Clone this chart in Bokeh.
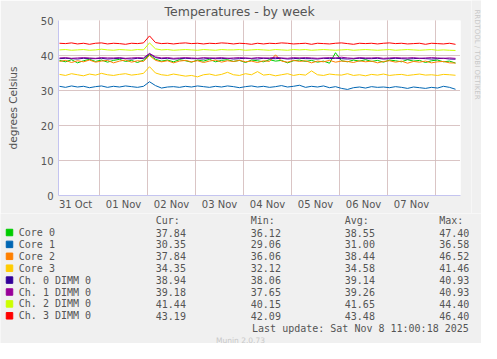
from bokeh.plotting import figure
from bokeh.layouts import column, row
from bokeh.models import FixedTicker, Grid, Range1d, ColumnDataSource
from bokeh.core.properties import value
from bokeh.embed import file_html
from bokeh.resources import INLINE

# ---------------- data ----------------
# sample times: hours since 31 Oct 00:00 (3-hourly samples)
hours = [4 + 3 * i for i in range(67)]

day_labels = ["31 Oct", "01 Nov", "02 Nov", "03 Nov", "04 Nov", "05 Nov", "06 Nov", "07 Nov"]
day_noons = [12, 36, 60, 84, 108, 132, 156, 180]
day_midnights = [24, 48, 72, 96, 120, 144, 168, 192]
y_ticks = [0, 10, 20, 30, 40, 50]

series_names = ["Core 0", "Core 1", "Core 2", "Core 3",
                "Ch. 0 DIMM 0", "Ch. 1 DIMM 0", "Ch. 2 DIMM 0", "Ch. 3 DIMM 0"]
series_colors = ["#00CC00", "#0066B3", "#FF8000", "#FFCC00",
                 "#330099", "#990099", "#CCFF00", "#FF0000"]
cur_vals = ["37.84", "30.35", "37.84", "34.35", "38.94", "39.18", "41.44", "43.19"]
min_vals = ["36.12", "29.06", "36.06", "32.12", "38.06", "37.65", "40.15", "42.09"]
avg_vals = ["38.55", "31.00", "38.44", "34.58", "39.14", "39.26", "41.65", "43.48"]
max_vals = ["47.40", "36.58", "46.52", "41.46", "40.93", "40.93", "44.40", "46.40"]

core0 = [38.6, 38.2, 38.8, 37.9, 38.5, 38.9, 38.3, 38.7, 38.1, 38.6,
         38.9, 38.3, 38.6, 38.0, 38.7, 40.2, 38.9, 38.4, 38.7, 38.2,
         38.8, 38.5, 38.1, 38.7, 38.4, 38.9, 38.2, 38.6, 38.8, 38.3,
         38.6, 38.0, 38.7, 38.5, 38.2, 38.8, 38.4, 38.6, 37.9, 38.5,
         38.7, 38.3, 38.6, 38.1, 38.4, 37.8, 40.8, 38.5, 38.2, 38.7,
         38.4, 38.8, 38.3, 38.6, 38.1, 38.7, 38.5, 38.2, 38.8, 38.4,
         38.6, 38.0, 38.5, 38.7, 38.2, 38.4, 37.84]
core1 = [31.2, 30.9, 31.3, 31.0, 31.2, 30.8, 31.1, 31.3, 30.9, 31.2,
         31.0, 31.3, 31.1, 30.9, 31.2, 32.5, 31.4, 30.7, 31.0, 31.1,
         30.9, 31.2, 31.0, 31.3, 31.1, 30.9, 31.2, 31.0, 31.3, 31.1,
         30.8, 31.1, 31.3, 31.0, 31.2, 30.9, 31.1, 31.4, 31.0, 31.2,
         31.5, 30.9, 31.2, 31.0, 31.3, 30.8, 31.1, 30.6, 30.3, 30.8,
         31.0, 30.7, 31.1, 30.9, 31.0, 30.8, 31.1, 30.9, 30.6, 31.0,
         30.8, 30.6, 30.9, 30.7, 31.2, 30.9, 30.35]
core2 = [38.3, 38.6, 38.0, 38.5, 38.2, 38.7, 38.1, 38.4, 38.6, 37.9,
         38.4, 38.7, 38.1, 38.5, 38.3, 40.0, 38.6, 38.2, 38.5, 37.9,
         38.4, 38.6, 38.2, 38.5, 38.0, 38.4, 38.7, 38.1, 38.5, 38.3,
         38.6, 38.2, 38.4, 38.0, 38.5, 38.3, 40.2, 38.4, 38.1, 38.6,
         38.3, 38.5, 37.9, 38.4, 38.2, 38.6, 38.1, 38.4, 38.3, 38.0,
         38.5, 38.2, 38.4, 37.9, 38.3, 38.5, 38.1, 38.4, 37.8, 38.3,
         38.1, 38.4, 37.9, 38.2, 38.3, 37.9, 37.84]
core3 = [34.6, 34.3, 34.8, 34.5, 34.2, 34.7, 34.4, 34.9, 34.5, 34.3,
         34.6, 34.8, 34.4, 34.6, 34.9, 36.8, 35.0, 34.5, 34.3, 34.7,
         34.4, 34.1, 34.3, 33.9, 34.5, 34.7, 34.3, 34.6, 35.2, 34.5,
         34.3, 34.8, 34.5, 35.4, 34.4, 34.6, 34.2, 34.5, 34.8, 34.3,
         34.6, 34.4, 35.6, 34.5, 34.3, 34.7, 34.5, 34.4, 34.8, 34.3,
         34.5, 34.2, 34.6, 34.4, 34.7, 34.3, 34.5, 34.6, 34.3, 34.5,
         34.7, 34.4, 34.5, 34.3, 34.6, 34.5, 34.35]
ch0 = [39.1, 39.2, 39.1, 39.0, 39.2, 39.1, 39.1, 39.2, 39.0, 39.1,
       39.2, 39.1, 39.0, 39.2, 39.1, 40.5, 39.4, 39.1, 39.2, 39.0,
       39.1, 39.2, 39.1, 39.1, 39.0, 39.2, 39.1, 39.1, 39.2, 39.0,
       39.1, 39.2, 39.1, 39.0, 39.2, 39.1, 39.1, 39.2, 39.0, 39.1,
       39.2, 39.1, 39.1, 39.0, 39.2, 39.1, 39.2, 39.1, 39.0, 39.1,
       39.2, 39.1, 39.1, 39.2, 39.0, 39.1, 39.2, 39.1, 39.0, 39.1,
       39.2, 39.1, 39.0, 39.1, 39.2, 39.0, 38.94]
ch1 = [39.3, 39.4, 39.2, 39.3, 39.4, 39.3, 39.2, 39.4, 39.3, 39.3,
       39.4, 39.2, 39.3, 39.4, 39.3, 40.6, 39.6, 39.3, 39.4, 39.2,
       39.3, 39.4, 39.3, 39.2, 39.4, 39.3, 39.3, 39.4, 39.2, 39.3,
       39.4, 39.3, 39.2, 39.4, 39.3, 39.3, 39.5, 39.3, 39.2, 39.4,
       39.3, 39.4, 39.3, 39.2, 39.3, 39.4, 39.3, 39.5, 39.3, 39.2,
       39.4, 39.3, 39.3, 39.4, 39.2, 39.3, 39.4, 39.3, 39.3, 39.4,
       39.2, 39.3, 39.4, 39.3, 39.2, 39.3, 39.18]
ch2 = [41.6, 41.7, 41.5, 41.6, 41.7, 41.5, 41.6, 41.8, 41.6, 41.5,
       41.7, 41.6, 41.5, 41.7, 41.6, 43.6, 41.9, 41.6, 41.7, 41.5,
       41.6, 41.7, 41.6, 41.5, 41.7, 41.6, 41.5, 41.7, 41.6, 41.6,
       41.7, 41.5, 41.6, 41.7, 41.6, 41.5, 41.7, 41.6, 41.5, 41.7,
       41.6, 41.7, 41.5, 41.6, 41.7, 41.6, 41.5, 41.6, 41.7, 41.5,
       41.6, 41.7, 41.6, 41.5, 41.6, 41.7, 41.5, 41.6, 41.7, 41.6,
       41.5, 41.6, 41.7, 41.5, 41.6, 41.5, 41.44]
ch3 = [43.5, 43.4, 43.6, 43.3, 43.5, 43.2, 43.5, 43.6, 43.3, 43.5,
       43.4, 43.2, 43.5, 43.4, 43.6, 45.6, 43.7, 43.4, 43.5, 43.3,
       43.5, 43.6, 43.4, 43.5, 43.3, 43.5, 43.4, 43.6, 43.5, 43.3,
       43.5, 43.4, 43.2, 43.5, 43.3, 43.5, 43.4, 43.6, 43.5, 43.3,
       43.4, 43.5, 43.2, 43.5, 43.4, 43.3, 43.5, 43.6, 43.4, 43.2,
       43.5, 43.4, 43.5, 43.3, 43.5, 43.6, 43.4, 43.5, 43.3, 43.4,
       43.5, 43.2, 43.5, 43.4, 43.3, 43.5, 43.19]

series_values = [core0, core1, core2, core3, ch0, ch1, ch2, ch3]

# ---------------- style ----------------
TXT = "#555555"
AX = "#c4c4f0"
BG = "#f0f0f0"
MONO = "DejaVu Sans Mono"

# ---------------- main chart ----------------
p = figure(width=471, height=213, output_backend="svg", toolbar_location=None,
           x_range=Range1d(3.5, 204.5), y_range=Range1d(0, 50),
           min_border_left=58, min_border_right=11, min_border_top=20,
           min_border_bottom=18, background_fill_color="white",
           border_fill_color=BG, outline_line_color=None, frame_align=False)

p.title.text = "Temperatures - by week"
p.title.align = "left"
p.title.offset = 106
p.title.standoff = 3
p.title.text_font = "DejaVu Sans"
p.title.text_font_size = "12.5px"
p.title.text_font_style = "normal"
p.title.text_color = TXT

p.yaxis.ticker = FixedTicker(ticks=y_ticks)
p.xaxis.ticker = FixedTicker(ticks=day_noons)
p.xaxis.major_label_overrides = {t: l for t, l in zip(day_noons, day_labels)}
for ax in (p.xaxis[0], p.yaxis[0]):
    ax.axis_line_color = AX
    ax.major_tick_line_color = None
    ax.minor_tick_line_color = None
    ax.major_tick_out = 0
    ax.major_tick_in = 0
    ax.minor_tick_out = 0
    ax.minor_tick_in = 0
    ax.major_label_text_font = "DejaVu Sans"
    ax.major_label_text_font_size = "10px"
    ax.major_label_text_color = TXT
p.yaxis.major_label_standoff = 5
p.xaxis.major_label_standoff = 3
p.yaxis.axis_label = "degrees Celsius"
p.yaxis.axis_label_text_font = "DejaVu Sans"
p.yaxis.axis_label_text_font_size = "10.5px"
p.yaxis.axis_label_text_font_style = "normal"
p.yaxis.axis_label_text_color = TXT
p.yaxis.axis_label_standoff = 19

# grids
minor_x = [h for h in range(6, 204, 6) if h % 24 != 0]
minor_y = [v for v in range(2, 50, 2) if v % 10 != 0]
p.add_layout(Grid(dimension=0, ticker=FixedTicker(ticks=minor_x),
                  grid_line_color="#c4c4c4", grid_line_dash="1 1"))
p.add_layout(Grid(dimension=1, ticker=FixedTicker(ticks=minor_y),
                  grid_line_color="#c4c4c4", grid_line_dash="1 1"))
p.xgrid.ticker = FixedTicker(ticks=day_midnights)
p.ygrid.ticker = FixedTicker(ticks=[10, 20, 30, 40, 50])
for g in (p.xgrid[0], p.ygrid[0]):
    g.grid_line_color = "#e08c8c"
    g.grid_line_dash = "1 1"

for vals, col in zip(series_values, series_colors):
    p.line(hours, vals, line_color=col, line_width=1.0)

# ---------------- right strip with the vertical credit (page-pixel coordinates) ----------------
strip = figure(width=10, height=213, output_backend="svg", toolbar_location=None,
               x_range=Range1d(479, 489), y_range=Range1d(221, 8),
               x_axis_type=None, y_axis_type=None, frame_align=False,
               min_border_left=0, min_border_right=0, min_border_top=0, min_border_bottom=0,
               background_fill_color=BG, border_fill_color=BG, outline_line_color=None)
strip.xgrid.visible = False
strip.ygrid.visible = False
strip.text(x=[484.3], y=[62], text=["RRDTOOL / TOBI OETIKER"], angle=-1.5708,
           text_font=value("DejaVu Sans"), text_font_size="7px", text_color="#c8c8c8",
           text_baseline="middle", text_align="center")

# ---------------- legend / info panel (page-pixel coordinates) ----------------
leg = figure(width=481, height=130, output_backend="svg", toolbar_location=None,
             x_range=Range1d(8, 489), y_range=Range1d(351, 221),
             x_axis_type=None, y_axis_type=None, frame_align=False,
             min_border_left=0, min_border_right=0, min_border_top=0, min_border_bottom=0,
             background_fill_color=BG, border_fill_color=BG, outline_line_color=None)
leg.xgrid.visible = False
leg.ygrid.visible = False

col_x = [163.3, 258.3, 352.3, 446.7]
row_y = [240 + 11.9 * i for i in range(len(series_names))]

rows = dict(x=[], y=[], t=[])
for hdr, cx in zip(["Cur:", "Min:", "Avg:", "Max:"], col_x):
    rows["x"].append(cx); rows["y"].append(227.5); rows["t"].append(hdr)
for i, name in enumerate(series_names):
    rows["x"].append(26.3); rows["y"].append(row_y[i]); rows["t"].append(name)
    for vals, cx in zip([cur_vals, min_vals, avg_vals, max_vals], col_x):
        rows["x"].append(cx); rows["y"].append(row_y[i]); rows["t"].append(vals[i])
leg.text(x="x", y="y", text="t", source=ColumnDataSource(rows),
         text_font=value(MONO), text_font_size="10px", text_color=TXT,
         text_baseline="middle", text_align="left")

leg.scatter([17] * len(series_names), row_y, marker="square", size=6.5,
            fill_color=series_colors, line_color=series_colors)

leg.text(x=[482.3], y=[335.7], text=["Last update: Sat Nov  8 11:00:18 2025"],
         text_font=value(MONO), text_font_size="10px", text_color=TXT,
         text_baseline="middle", text_align="right")
leg.text(x=[248], y=[347.5], text=["Munin 2.0.73"],
         text_font=value("DejaVu Sans"), text_font_size="7.5px", text_color="#c8c8c8",
         text_baseline="middle", text_align="center")

layout = column(row(p, strip, spacing=0), leg, spacing=0)
open("out.html", "w").write(file_html(layout, INLINE))
